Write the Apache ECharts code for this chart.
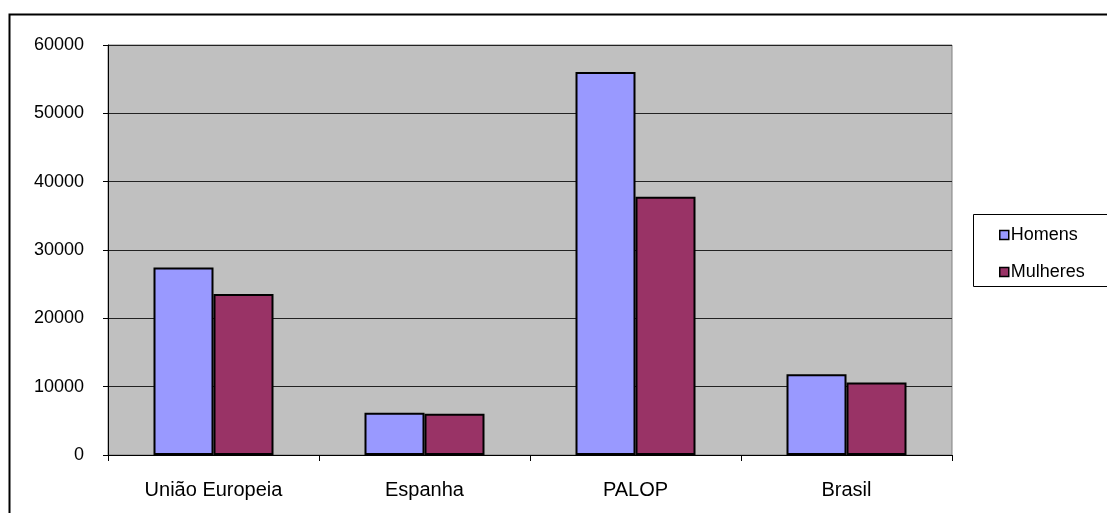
<!DOCTYPE html>
<html>
<head>
<meta charset="utf-8">
<script src="https://cdn.jsdelivr.net/npm/echarts@6/dist/echarts.min.js"></script>
<style>
  html, body { margin: 0; padding: 0; background: #fff; }
  #chart { width: 1107px; height: 513px; }
</style>
</head>
<body>
<div id="chart"></div>
<script>
// Categories and series values
const categories = ['União Europeia', 'Espanha', 'PALOP', 'Brasil'];
const homens = [27450, 6200, 56050, 11800];
const mulheres = [23550, 6050, 37800, 10600];
const seriesNames = ['Homens', 'Mulheres'];
const yTicks = { min: 0, max: 60000, interval: 10000 };

const font = '"Liberation Sans", Arial, sans-serif';
const chart = echarts.init(document.getElementById('chart'), null, { renderer: 'canvas' });

chart.setOption({
  animation: false,
  backgroundColor: '#ffffff',
  textStyle: { fontFamily: font },
  graphic: [
    // outer frame
    { type: 'rect', left: 7, top: 12, shape: { x: 0, y: 0, width: 1200, height: 600 },
      style: { fill: 'none', stroke: '#000', lineWidth: 2 }, z: 100 },
    // legend box
    { type: 'rect', shape: { x: 973.5, y: 214.5, width: 160, height: 72 },
      style: { fill: '#fff', stroke: '#000', lineWidth: 1 }, z: 1 }
  ],
  grid: {
    left: 108, right: 155, top: 45, bottom: 58,
    show: true, backgroundColor: '#C0C0C0', borderColor: '#808080', borderWidth: 1
  },
  legend: {
    data: seriesNames,
    orient: 'vertical',
    left: 999, top: 226,
    icon: 'rect',
    itemWidth: 9, itemHeight: 9,
    itemGap: 19,
    padding: 0,
    z: 5,
    itemStyle: { borderColor: '#000', borderWidth: 1.5 },
    textStyle: { fontFamily: font, fontSize: 18, color: '#000', padding: [0, 0, 0, -3] }
  },
  xAxis: {
    type: 'category',
    data: categories,
    boundaryGap: true,
    axisLine: { lineStyle: { color: '#000', width: 1 } },
    axisTick: { show: true, alignWithLabel: false, length: 6, lineStyle: { color: '#000' } },
    axisLabel: { margin: 25, fontFamily: font, fontSize: 20, color: '#000' },
    splitLine: { show: false }
  },
  yAxis: {
    type: 'value',
    min: yTicks.min, max: yTicks.max, interval: yTicks.interval,
    axisLine: { show: true, lineStyle: { color: '#000', width: 1 } },
    axisTick: { show: true, length: 5, lineStyle: { color: '#000' } },
    axisLabel: { margin: 24, fontFamily: font, fontSize: 18, color: '#000',
      formatter: v => String(v) },
    splitLine: { show: true, lineStyle: { color: '#222', width: 1 } }
  },
  series: [
    {
      name: seriesNames[0], type: 'bar', data: homens,
      barWidth: 60, barGap: '0%',
      itemStyle: { color: '#9999FF', borderColor: '#000', borderWidth: 2 }
    },
    {
      name: seriesNames[1], type: 'bar', data: mulheres,
      barWidth: 60, barGap: '0%',
      itemStyle: { color: '#993366', borderColor: '#000', borderWidth: 2 }
    }
  ]
});
</script>
</body>
</html>
